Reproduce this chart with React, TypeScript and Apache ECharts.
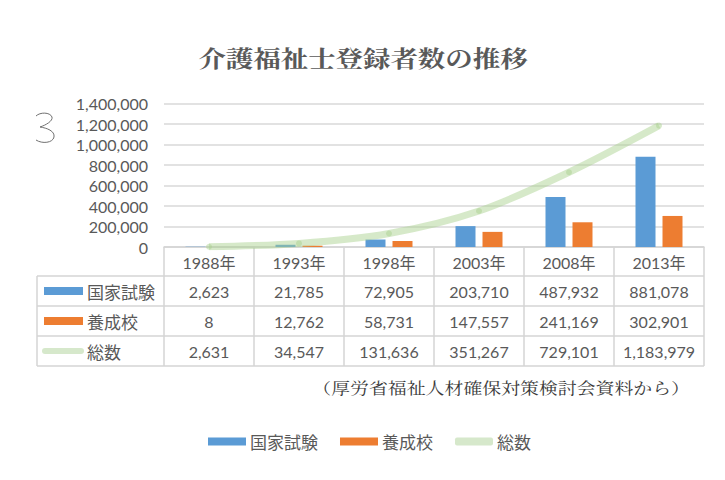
import React, { useEffect, useRef } from "react";
import * as echarts from "echarts";

const years = ["1988年", "1993年", "1998年", "2003年", "2008年", "2013年"];
const kokka = [2623, 21785, 72905, 203710, 487932, 881078];
const yosei = [8, 12762, 58731, 147557, 241169, 302901];
const total = [2631, 34547, 131636, 351267, 729101, 1183979];
const names = ["国家試験", "養成校", "総数"];
const titleText = "介護福祉士登録者数の推移";
const sourceText = "（厚労省福祉人材確保対策検討会資料から）";

const BLUE = "#5B9BD5";
const ORANGE = "#ED7D31";
const GREEN = "rgba(169,209,142,0.48)";
const GREEN_KEY = "#d6e8cb";
const GRAY = "#595959";
const LINE = "#d4d4d4";
const NUM_FONT = 'Lato, "Noto Sans CJK JP", sans-serif';
const JP_FONT = '"Noto Sans CJK JP", sans-serif';
const SERIF = '"Noto Serif CJK JP", "Noto Sans CJK JP", serif';

echarts.graphic.registerShape(
  "threeMark",
  echarts.graphic.extendPath(
    "M2,4 C6,0 16,0 18,5 C19,9 12,13 6,15 C13,16 21,19 20,25 C19,31 8,32 2,28",
    {}
  )
);

const GL = 164;
const GR = 704;
const GT = 103.5;
const GB = 247;
const ROWS = [276, 306, 336, 366];
const TL = 37;

export default function App() {
  const ref = useRef<HTMLDivElement>(null);
  useEffect(() => {
    document.body.style.margin = "0";
    const chart = echarts.init(ref.current!, null, { renderer: "svg" });
    const colW = (GR - GL) / years.length;
    const rowsData = [kokka, yosei, total];
    const graphics: any[] = [];
    graphics.push({
      type: "text",
      x: 363,
      y: 57,
      scaleX: 1.22,
      style: {
        text: titleText,
        fill: GRAY,
        font: `bold 22.5px ${SERIF}`,
        textAlign: "center",
        textVerticalAlign: "middle",
      },
    });
    for (let k = 0; k <= years.length; k++) {
      graphics.push({
        type: "line",
        shape: { x1: GL + colW * k, y1: GB, x2: GL + colW * k, y2: ROWS[3] },
        style: { stroke: LINE, lineWidth: 1.5 },
      });
    }
    graphics.push({
      type: "line",
      shape: { x1: TL, y1: ROWS[0], x2: TL, y2: ROWS[3] },
      style: { stroke: LINE, lineWidth: 1.5 },
    });
    ROWS.forEach((y) =>
      graphics.push({
        type: "line",
        shape: { x1: TL, y1: y, x2: GR, y2: y },
        style: { stroke: LINE, lineWidth: 1.5 },
      })
    );
    rowsData.forEach((arr, r) => {
      const cy = (ROWS[r] + ROWS[r + 1]) / 2;
      if (r < 2) {
        graphics.push({
          type: "rect",
          shape: { x: 44, y: cy - 4, width: 39, height: 8 },
          style: { fill: r === 0 ? BLUE : ORANGE },
        });
      } else {
        graphics.push({
          type: "line",
          shape: { x1: 45, y1: cy, x2: 81, y2: cy },
          style: { stroke: GREEN_KEY, lineWidth: 6, lineCap: "round" },
        });
      }
      graphics.push({
        type: "text",
        x: 87,
        y: cy,
        style: {
          text: names[r],
          fill: GRAY,
          font: `17px ${JP_FONT}`,
          textAlign: "left",
          textVerticalAlign: "middle",
        },
      });
      arr.forEach((v, i) => {
        graphics.push({
          type: "text",
          x: GL + colW * (i + 0.5),
          y: cy,
          style: {
            text: v.toLocaleString("en-US"),
            fill: GRAY,
            font: `16px ${NUM_FONT}`,
            textAlign: "center",
            textVerticalAlign: "middle",
          },
        });
      });
    });
    graphics.push({
      type: "text",
      x: 690,
      y: 387,
      scaleX: 1.22,
      style: {
        text: sourceText,
        fill: "#3a3a3a",
        font: `15.5px ${SERIF}`,
        textAlign: "right",
        textVerticalAlign: "middle",
      },
    });
    graphics.push({
      type: "threeMark",
      x: 34,
      y: 112,
      style: { stroke: "#707070", fill: "none", lineWidth: 1 },
    });

    chart.setOption({
      animation: false,
      grid: { left: GL, right: 725 - GR, top: GT, bottom: 480 - GB },
      legend: {
        left: 203,
        top: 428,
        itemWidth: 38,
        itemHeight: 8,
        itemGap: 22,
        textStyle: { color: GRAY, fontSize: 17, fontFamily: JP_FONT, padding: [0, 0, 0, -1] },
        data: [
          { name: names[0], icon: "rect" },
          { name: names[1], icon: "rect" },
          { name: names[2], icon: "roundRect", itemStyle: { color: GREEN_KEY } },
        ],
      },
      xAxis: {
        type: "category",
        data: years,
        axisLine: { show: true, lineStyle: { color: LINE, width: 1.5 } },
        axisTick: { show: false },
        axisLabel: { color: GRAY, fontSize: 16, fontFamily: NUM_FONT, margin: 7 },
      },
      yAxis: {
        type: "value",
        min: 0,
        max: 1400000,
        interval: 200000,
        axisLine: { show: false },
        axisTick: { show: false },
        splitLine: { lineStyle: { color: "#d9d9d9", width: 1.5 } },
        axisLabel: {
          color: GRAY,
          fontSize: 16,
          fontFamily: NUM_FONT,
          margin: 16,
          formatter: (v: number) => v.toLocaleString("en-US"),
        },
      },
      series: [
        {
          name: names[0],
          type: "bar",
          data: kokka,
          barWidth: 20,
          barGap: "35%",
          itemStyle: { color: BLUE },
        },
        {
          name: names[1],
          type: "bar",
          data: yosei,
          barWidth: 20,
          barGap: "35%",
          itemStyle: { color: ORANGE },
        },
        {
          name: names[2],
          type: "line",
          data: total,
          smooth: 0.3,
          symbol: "circle",
          symbolSize: 6,
          itemStyle: { color: GREEN },
          lineStyle: { color: GREEN, width: 7 },
        },
      ],
      graphic: graphics,
    });
    return () => chart.dispose();
  }, []);
  return (
    <div
      ref={ref}
      style={{ position: "fixed", left: 0, top: 0, width: 725, height: 480, background: "#fff" }}
    />
  );
}
